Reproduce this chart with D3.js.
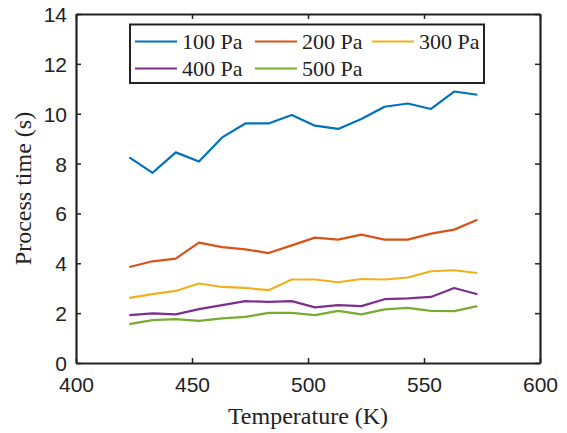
<!DOCTYPE html>
<html><head><meta charset="utf-8">
<script src="https://cdn.jsdelivr.net/npm/d3@7"></script>
<style>body{margin:0;background:#fff}</style>
</head><body>
<svg id="c" width="567" height="433"></svg>
<script>
const temps = [423,433,443,453,463,473,483,493,503,513,523,533,543,553,563,573];
const p100 = [8.25,7.63,8.45,8.08,9.05,9.61,9.61,9.95,9.52,9.39,9.79,10.28,10.41,10.19,10.89,10.76];
const p200 = [3.85,4.08,4.19,4.83,4.65,4.56,4.41,4.72,5.03,4.95,5.15,4.95,4.95,5.19,5.35,5.75];
const p300 = [2.61,2.76,2.89,3.19,3.05,3.01,2.92,3.35,3.35,3.24,3.37,3.35,3.43,3.68,3.72,3.61];
const p400 = [1.92,1.99,1.95,2.16,2.32,2.48,2.45,2.48,2.23,2.32,2.28,2.56,2.59,2.65,3.01,2.76];
const p500 = [1.56,1.72,1.76,1.69,1.79,1.85,2.01,2.01,1.92,2.09,1.95,2.15,2.21,2.09,2.08,2.28];
const seriesNames = ["100 Pa","200 Pa","300 Pa","400 Pa","500 Pa"];
const seriesColors = ["#0072BD","#D95319","#EDB120","#7E2F8E","#77AC30"];
const xTicks = [400,450,500,550,600];
const yTicks = [0,2,4,6,8,10,12,14];

const series = [p100,p200,p300,p400,p500];
const svg = d3.select("#c");
const L=76,R=540,T=14,B=363;
const x = d3.scaleLinear().domain([400,600]).range([L,R]);
const y = d3.scaleLinear().domain([0,14]).range([B,T]);

const line = d3.line().x((d,i)=>x(temps[i])).y(d=>y(d));
series.forEach((s,k)=>{
  svg.append("path").datum(s).attr("d",line).attr("fill","none")
    .attr("stroke",seriesColors[k]).attr("stroke-width",2.2).attr("stroke-linejoin","round");
});

const tickFont = "'Liberation Sans', Arial, sans-serif";
const serif = "'Liberation Serif', 'Times New Roman', serif";
// axes
const gx = svg.append("g").attr("transform",`translate(0,${B})`)
  .call(d3.axisBottom(x).tickValues(xTicks).tickSizeInner(-5).tickSizeOuter(0).tickPadding(14));
const gy = svg.append("g").attr("transform",`translate(${L},0)`)
  .call(d3.axisLeft(y).tickValues(yTicks).tickSizeInner(-5).tickSizeOuter(0).tickPadding(9));
const gxt = svg.append("g").attr("transform",`translate(0,${T})`)
  .call(d3.axisTop(x).tickValues(xTicks).tickSizeInner(-5).tickSizeOuter(0).tickFormat(""));
const gyr = svg.append("g").attr("transform",`translate(${R},0)`)
  .call(d3.axisRight(y).tickValues(yTicks).tickSizeInner(-5).tickSizeOuter(0).tickFormat(""));
[gx,gy,gxt,gyr].forEach(g=>{
  g.select(".domain").attr("stroke","#222").attr("stroke-width",2.2);
  g.selectAll(".tick line").attr("stroke","#222").attr("stroke-width",1.5);
  g.selectAll(".tick text").attr("fill","#222").style("font-family",tickFont).style("font-size","21px");
});
gy.selectAll(".tick text").attr("dy","0.36em");

svg.append("text").attr("x",(L+R)/2).attr("y",424).attr("text-anchor","middle")
  .style("font-family",serif).style("font-size","24px").attr("fill","#222").text("Temperature (K)");
svg.append("text").attr("transform",`translate(31,${(T+B)/2}) rotate(-90)`).attr("text-anchor","middle")
  .style("font-family",serif).style("font-size","24px").attr("fill","#222").text("Process time (s)");

// legend
const lg = svg.append("g");
lg.append("rect").attr("x",130).attr("y",24.5).attr("width",354).attr("height",58.5)
  .attr("fill","#fff").attr("stroke","#222").attr("stroke-width",2);
const cols=[135,255,372], rows=[41.5,68.5];
seriesNames.forEach((n,k)=>{
  const cx=cols[k%3], cy=rows[Math.floor(k/3)];
  lg.append("line").attr("x1",cx).attr("x2",cx+42).attr("y1",cy).attr("y2",cy)
    .attr("stroke",seriesColors[k]).attr("stroke-width",2.2);
  lg.append("text").attr("x",cx+47).attr("y",cy+7.5).style("font-family",serif)
    .style("font-size","22px").attr("fill","#222").text(n);
});
</script>
</body></html>
